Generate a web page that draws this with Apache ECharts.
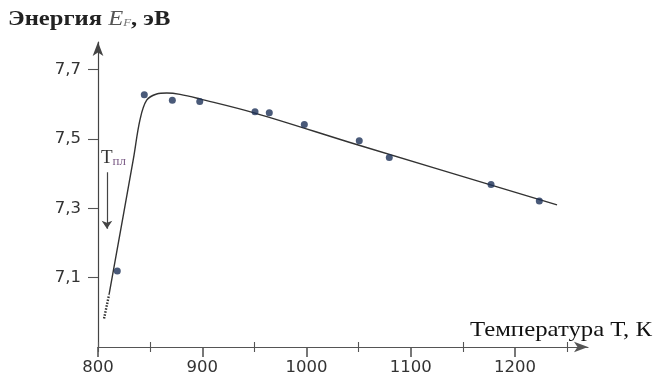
<!DOCTYPE html>
<html>
<head>
<meta charset="utf-8">
<script src="https://cdn.jsdelivr.net/npm/echarts@6/dist/echarts.min.js"></script>
<style>html,body{margin:0;padding:0;background:#fff}#c{width:659px;height:376px}</style>
</head>
<body>
<div id="c"></div>
<script>
// Measured points: temperature (K) and Fermi energy (eV)
var pointT = [818.5, 844.4, 871.3, 897.6, 950.6, 964.3, 997.9, 1050.6, 1079.4, 1177.0, 1223.3];
var pointE = [7.119, 7.628, 7.612, 7.608, 7.579, 7.576, 7.542, 7.495, 7.447, 7.369, 7.321];
// Fitted curve
var curveT = [810.6, 833.9, 840.3, 846.7, 856.3, 866.0, 878.7, 897.6, 950.6, 1050.4, 1240.3];
var curveE = [7.051, 7.442, 7.556, 7.612, 7.630, 7.633, 7.629, 7.616, 7.575, 7.482, 7.310];
// Hatched start of curve
var hatchT = [805.8, 810.6];
var hatchE = [6.982, 7.051];
// Melting-point arrow
var arrowT = [808.6, 808.6];
var arrowE = [7.404, 7.241];
// Axis ticks
var xMajorTicks = [800, 900, 1000, 1100, 1200];
var xMinorTicks = [800, 850, 950, 1050, 1150, 1250];
var yTicks = [7.1, 7.3, 7.5, 7.7];

function zip(a, b) { return a.map(function (v, i) { return [v, b[i]]; }); }

var axisColor = '#555';
var chart = echarts.init(document.getElementById('c'));
var baseX = {
  type: 'value', min: 800, max: 1270, position: 'bottom',
  splitLine: { show: false }
};
chart.setOption({
  animation: false,
  grid: { left: 98, right: 71, top: 42, bottom: 28 },
  xAxis: [
    Object.assign({}, baseX, {
      axisLine: { show: true, lineStyle: { color: axisColor, width: 1.2 }, symbol: ['none', 'arrow'], symbolSize: [8, 14], symbolOffset: [0, 0] },
      axisTick: { show: true, length: 10, inside: false, customValues: xMajorTicks, lineStyle: { color: axisColor, width: 1.6 } },
      axisLabel: {
        customValues: xMajorTicks, margin: 12, color: '#333', fontFamily: 'DejaVu Sans', fontSize: 16.5,
        formatter: function (v) { return String(v); }
      }
    }),
    Object.assign({}, baseX, {
      axisLine: { show: false },
      axisTick: { show: true, length: 5, inside: true, customValues: xMinorTicks, lineStyle: { color: axisColor, width: 1.1 } },
      axisLabel: { show: false }
    }),
    Object.assign({}, baseX, {
      axisLine: { show: false },
      axisTick: { show: true, length: 5, inside: false, customValues: xMinorTicks, lineStyle: { color: axisColor, width: 1.1 } },
      axisLabel: { show: false }
    })
  ],
  yAxis: {
    type: 'value', min: 6.9, max: 7.78,
    splitLine: { show: false },
    axisLine: { show: true, lineStyle: { color: '#444', width: 1.2 }, symbol: ['none', 'arrow'], symbolSize: [8, 14] },
    axisTick: { show: true, length: 10, customValues: yTicks, lineStyle: { color: axisColor, width: 1.1 } },
    axisLabel: {
      customValues: yTicks, margin: 17, color: '#333', fontFamily: 'DejaVu Sans', fontSize: 16.5,
      formatter: function (v) { return v.toFixed(1).replace('.', ','); }
    }
  },
  series: [
    {
      type: 'line', data: zip(curveT, curveE), smooth: 0.35, symbol: 'none',
      lineStyle: { color: '#333', width: 1.4 }, z: 2
    },
    {
      type: 'line', data: zip(hatchT, hatchE), symbol: 'none',
      lineStyle: { color: '#333', width: 2.4, type: [1.5, 1.5] }, z: 2
    },
    {
      type: 'scatter', data: zip(pointT, pointE), symbolSize: 7,
      itemStyle: { color: '#1d3158' }, z: 3
    },
    {
      type: 'lines', coordinateSystem: 'cartesian2d',
      data: [{ coords: zip(arrowT, arrowE) }],
      symbol: ['none', 'arrow'], symbolSize: 8,
      lineStyle: { color: '#444', width: 1.2, opacity: 1 }, z: 3
    }
  ],
  graphic: [
    {
      type: 'text', x: 8, y: 9, scaleX: 1.17,
      style: {
        rich: {
          a: { fontFamily: 'Liberation Serif', fontWeight: 'bold', fontSize: 21, fill: '#222' },
          e: { fontFamily: 'Liberation Serif', fontStyle: 'italic', fontSize: 21, fill: '#555' },
          f: { fontFamily: 'Liberation Serif', fontStyle: 'italic', fontSize: 11, fill: '#777', padding: [8, 0, 0, 0] },
          b: { fontFamily: 'Liberation Serif', fontWeight: 'bold', fontSize: 21, fill: '#222' }
        },
        text: '{a|Энергия }{e|E}{f|F}{b|, эВ}'
      }
    },
    {
      type: 'text', x: 470, y: 320, scaleX: 1.18,
      style: { text: 'Температура Т, К', fontFamily: 'Liberation Serif', fontSize: 21, fill: '#111' }
    },
    {
      type: 'text', x: 101, y: 148,
      style: {
        rich: {
          t: { fontFamily: 'Liberation Serif', fontSize: 19, fill: '#333' },
          s: { fontFamily: 'Liberation Serif', fontSize: 13, fill: '#7b5b86', padding: [7, 0, 0, 0] }
        },
        text: '{t|Т}{s|пл}'
      }
    }
  ]
});
</script>
</body>
</html>
